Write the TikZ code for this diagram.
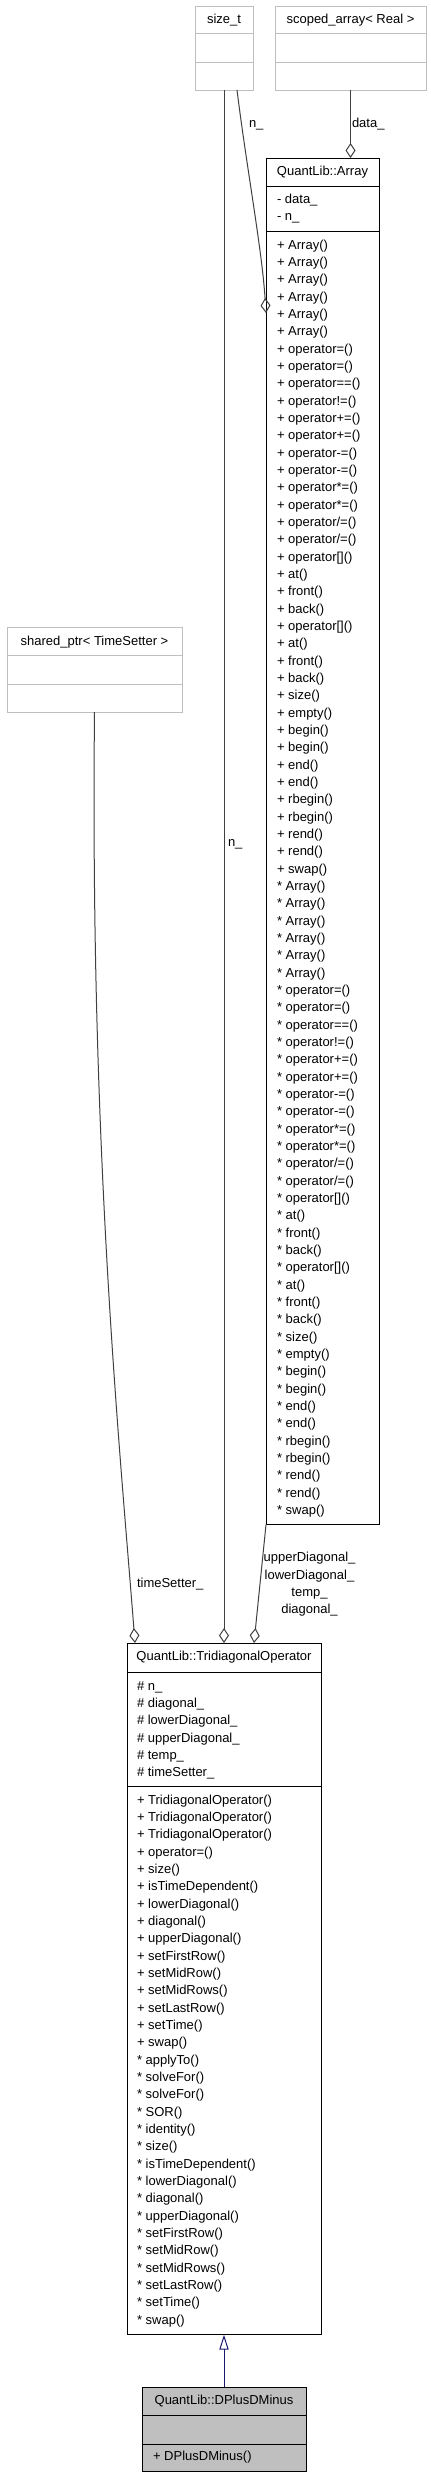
\documentclass[tikz,border=0pt]{standalone}
\usepackage{fontspec}
\setmainfont{Liberation Sans}
\usetikzlibrary{arrows.meta}
\definecolor{edgec}{HTML}{404040}
\definecolor{ugray}{HTML}{BFBFBF}
\definecolor{inhc}{HTML}{191970}
\newcommand\fs{\fontsize{9.75pt}{12pt}\selectfont}
\newcommand\myarrayops{Array(),Array(),Array(),Array(),Array(),Array(),operator=(),operator=(),operator==(),operator!=(),operator+=(),operator+=(),operator-=(),operator-=(),operator*=(),operator*=(),operator/=(),operator/=(),operator[](),at(),front(),back(),operator[](),at(),front(),back(),size(),empty(),begin(),begin(),end(),end(),rbegin(),rbegin(),rend(),rend(),swap()}
\newcommand\mytriplus{TridiagonalOperator(),TridiagonalOperator(),TridiagonalOperator(),operator=(),size(),isTimeDependent(),lowerDiagonal(),diagonal(),upperDiagonal(),setFirstRow(),setMidRow(),setMidRows(),setLastRow(),setTime(),swap()}
\newcommand\mytristar{applyTo(),solveFor(),solveFor(),SOR(),identity(),size(),isTimeDependent(),lowerDiagonal(),diagonal(),upperDiagonal(),setFirstRow(),setMidRow(),setMidRows(),setLastRow(),setTime(),swap()}
\newcommand\clsbox[6]{\node[#2, anchor=north west, minimum width={(#5-#3)*0.75pt}, minimum height={(#6-#4)*0.75pt}] (#1) at (#3,#4) {};}
\begin{document}
\begin{tikzpicture}[x=0.75pt, y=-0.75pt, line width=0.75pt, font=\fs,
  docbox/.style={draw=black, fill=white, inner sep=0pt, outer sep=0pt, line width=0.75pt},
  undocbox/.style={draw=ugray, fill=white, inner sep=0pt, outer sep=0pt, line width=0.75pt},
  focusbox/.style={draw=black, fill=ugray, inner sep=0pt, outer sep=0pt, line width=0.75pt},
  txt/.style={anchor=base west, inner sep=0pt, outer sep=0pt},
  ctr/.style={anchor=base, inner sep=0pt, outer sep=0pt},
  agg/.style={draw=edgec, line width=0.75pt, -{Diamond[open, length=11.25pt, width=7.5pt]}},
  inh/.style={draw=inhc, line width=0.75pt, -{Triangle[open, length=11.25pt, width=7pt]}}]
\useasboundingbox (0,0) rectangle (431,2477);

% ---------- size_t ----------
\clsbox{sizet}{undocbox}{195}{6}{253}{90}
\draw[ugray] (195,33) -- (253,33) (195,62) -- (253,62);
\node[ctr] (sizeth) at (224,23) {size\_t};

% ---------- scoped_array ----------
\clsbox{scoped}{undocbox}{275}{6}{426}{90}
\draw[ugray] (275,33) -- (426,33) (275,62) -- (426,62);
\node[ctr] (scopedh) at (350.5,23) {scoped\_array< Real >};

% ---------- shared_ptr ----------
\clsbox{shptr}{undocbox}{7}{627}{182}{712}
\draw[ugray] (7,655) -- (182,655) (7,684) -- (182,684);
\node[ctr] (shptrh) at (94.5,645) {shared\_ptr< TimeSetter >};

% ---------- QuantLib::Array ----------
\clsbox{array}{docbox}{266}{158}{379}{1524.7}
\draw (266,186) -- (379,186) (266,231.3) -- (379,231.3);
\node[ctr] (arrayh) at (322.5,175.5) {QuantLib::Array};
\node[txt] (arra0) at (277,203.5) {- data\_};
\node[txt] (arra1) at (277,220.8) {- n\_};
\foreach \m [count=\i from 0] in \myarrayops {
  \node[txt] (arrp\i) at (277,{249.3+\i*17.333}) {+ \m};
  \node[txt] (arrs\i) at (277,{249.3+(\i+37)*17.333}) {* \m};
}

% ---------- QuantLib::TridiagonalOperator ----------
\clsbox{tri}{docbox}{127}{1643}{321}{2334.7}
\draw (127,1672) -- (321,1672) (127,1786.7) -- (321,1786.7);
\node[ctr] (trih) at (224,1660.5) {QuantLib::TridiagonalOperator};
\foreach \a [count=\i from 0] in {n\_,diagonal\_,lowerDiagonal\_,upperDiagonal\_,temp\_,timeSetter\_} {
  \node[txt] (tria\i) at (137,{1690+\i*17.333}) {\# \a};
}
\foreach \m [count=\i from 0] in \mytriplus {
  \node[txt] (trip\i) at (137,{1804+\i*17.333}) {+ \m};
}
\foreach \m [count=\i from 0] in \mytristar {
  \node[txt] (tris\i) at (137,{1804+(\i+15)*17.333}) {* \m};
}

% ---------- QuantLib::DPlusDMinus ----------
\clsbox{dpd}{focusbox}{142}{2387}{306}{2471.7}
\draw (142,2415) -- (306,2415) (142,2444) -- (306,2444);
\node[ctr] (dpdh) at (224,2404) {QuantLib::DPlusDMinus};
\node[txt] (dpdm0) at (153,2460) {+ DPlusDMinus()};

% ---------- connectors ----------
\draw[agg] (scoped.south) -- (scoped.south |- array.north);
\node[txt] (lbldata) at (352,127) {data\_};

\draw[agg] ([xshift=9.75pt]sizet.south) .. controls (247,170) and (262,250) .. ([yshift=-116.25pt]array.north west);
\node[txt] (lbln1) at (249,127) {n\_};

\draw[agg] (sizet.south) -- (sizet.south |- tri.north);
\node[txt] (lbln2) at (228,846) {n\_};

\draw[agg] (shptr.south) .. controls (90,1150) and (120,1450) .. ([xshift=-66.75pt]tri.north);
\node[txt] (lblts) at (137,1587) {timeSetter\_};

\draw[agg] (array.south west) -- ([xshift=22.5pt]tri.north);
\node[ctr] (lblud1) at (309.5,1561) {upperDiagonal\_};
\node[ctr] (lblud2) at (309.5,1579) {lowerDiagonal\_};
\node[ctr] (lblud3) at (309.5,1596) {temp\_};
\node[ctr] (lblud4) at (309.5,1613) {diagonal\_};

\draw[inh] (dpd.north) -- (tri.south);
\end{tikzpicture}
\end{document}
